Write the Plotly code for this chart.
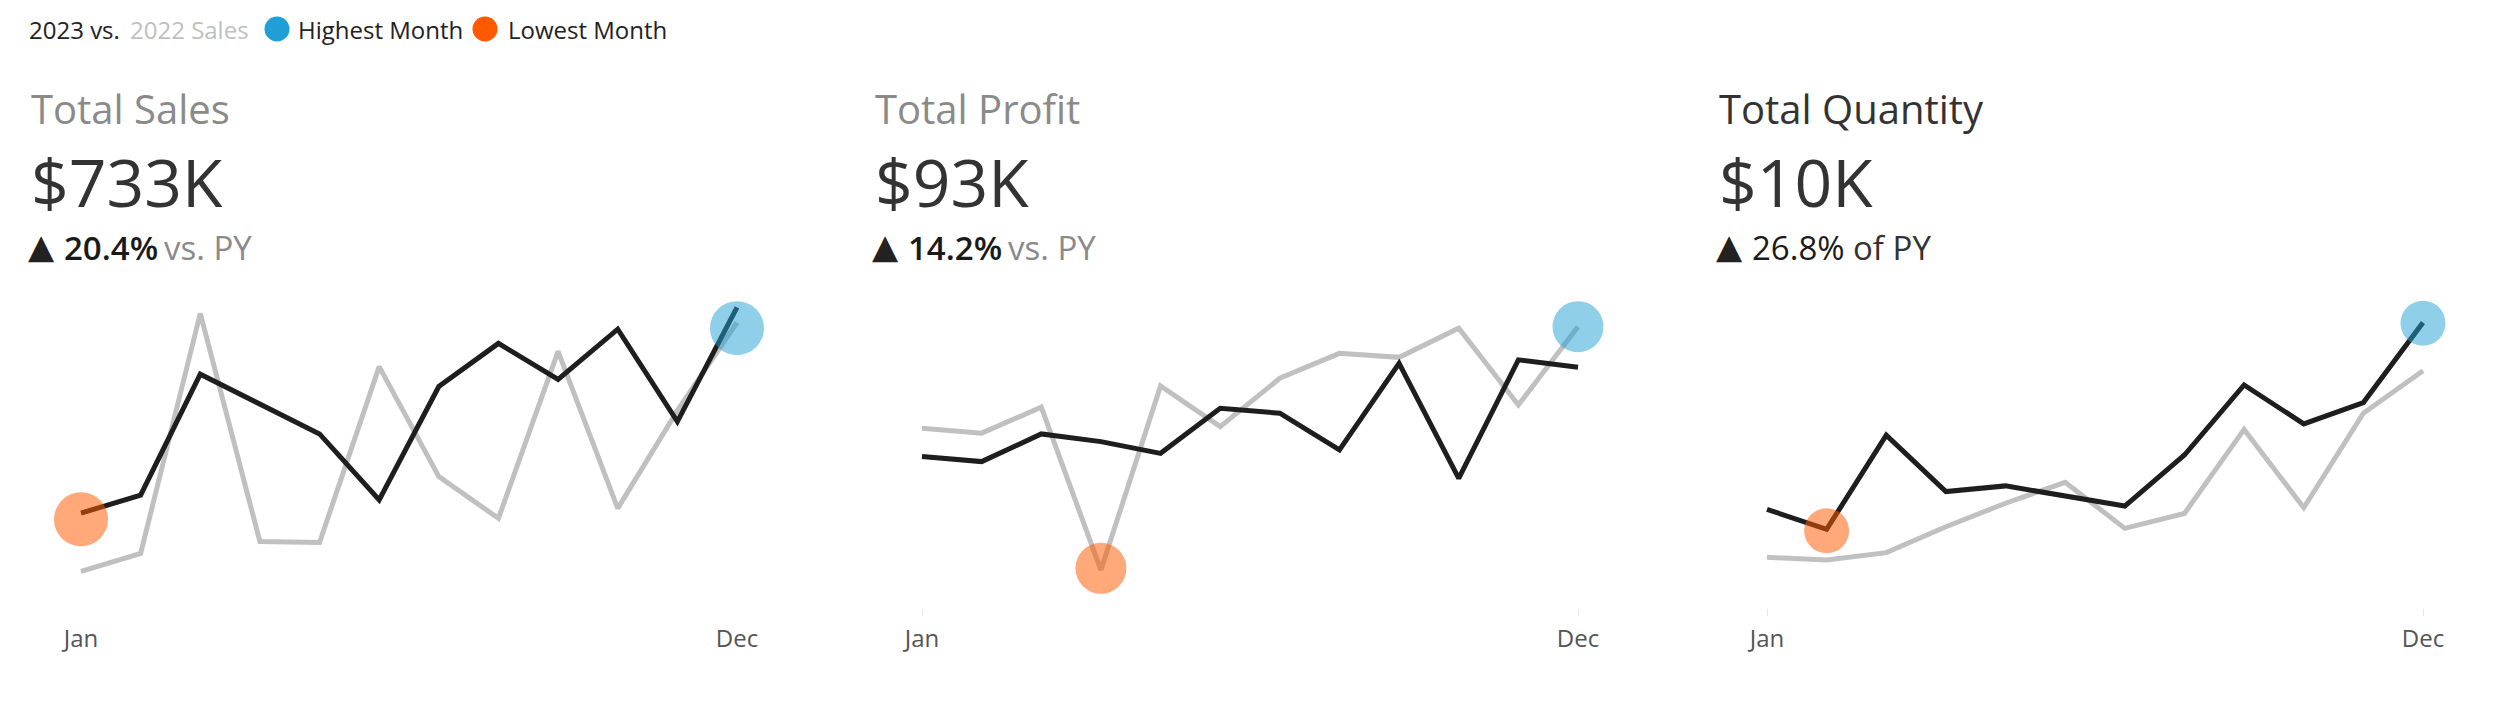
import plotly.graph_objects as go

# monthly values
months = ["Jan", "Feb", "Mar", "Apr", "May", "Jun",
          "Jul", "Aug", "Sep", "Oct", "Nov", "Dec"]

# Total Sales ($K)
sales_black = [38.8, 42.6, 68.1, 61.8, 55.5, 41.6, 65.5, 74.6, 67.0, 77.6, 58.1, 82.2]
sales_gray = [26.5, 30.3, 80.9, 32.8, 32.6, 69.7, 46.5, 37.7, 72.9, 39.8, 60.4, 79.0]
sales_low = ("Jan", 37.5)
sales_high = ("Dec", 77.8)

# Total Profit ($K)
profit_black = [5.48, 5.28, 6.39, 6.08, 5.61, 7.42, 7.22, 5.75, 9.22, 4.61, 9.36, 9.06]
profit_gray = [6.62, 6.42, 7.46, 0.93, 8.31, 6.68, 8.62, 9.62, 9.46, 10.63, 7.55, 10.69]
profit_low = ("Apr", 1.0)
profit_high = ("Dec", 10.69)

# Total Quantity (units)
qty_black = [598, 514, 911, 673, 697, 652, 612, 827, 1122, 958, 1048, 1385]
qty_gray = [396, 385, 416, 525, 624, 712, 518, 581, 935, 605, 1003, 1182]
qty_low = ("Feb", 508)
qty_high = ("Dec", 1382)

titles = ["Total Sales", "Total Profit", "Total Quantity"]
title_colors = ["#8a8a8a", "#8a8a8a", "#333333"]
kpis = ["$733K", "$93K", "$10K"]
deltas = ["20.4%", "14.2%", "26.8%"]
delta_suffix = ["vs. PY", "vs. PY", "of PY"]

BLUE = "#1f9fd6"
ORANGE = "#ff5a00"
FONT = "Open Sans"

panels = [
    dict(black=sales_black, gray=sales_gray, low=sales_low, high=sales_high,
         yrange=[18.8, 85.85], dot=54, ticks="white"),
    dict(black=profit_black, gray=profit_gray, low=profit_low, high=profit_high,
         yrange=[-0.59, 12.16], dot=51, ticks="#e6e6e6"),
    dict(black=qty_black, gray=qty_gray, low=qty_low, high=qty_high,
         yrange=[182.7, 1522], dot=45, ticks="#e6e6e6"),
]

W, H = 2500, 712
jan_px = [81, 922, 1767]     # pixel x of Jan in each panel
span_px = 656                # Jan -> Dec width
text_left = [29, 873, 1717]

fig = go.Figure()
layout = {}
annotations = []

for i, p in enumerate(panels):
    n = "" if i == 0 else str(i + 1)
    xa, ya = "x" + n, "y" + n
    step = span_px / 11
    left = (jan_px[i] - step / 2) / W
    right = (jan_px[i] + span_px + step / 2) / W

    fig.add_trace(go.Scatter(x=months, y=p["gray"], mode="lines", xaxis=xa, yaxis=ya,
                             line=dict(color="#c0c0c0", width=5), cliponaxis=False,
                             hoverinfo="skip"))
    fig.add_trace(go.Scatter(x=months, y=p["black"], mode="lines", xaxis=xa, yaxis=ya,
                             line=dict(color="#1e1e1e", width=5), cliponaxis=False,
                             hoverinfo="skip"))
    fig.add_trace(go.Scatter(x=[p["low"][0]], y=[p["low"][1]], mode="markers",
                             xaxis=xa, yaxis=ya, cliponaxis=False,
                             marker=dict(size=p["dot"], color=ORANGE, opacity=0.52,
                                         line=dict(width=0))))
    fig.add_trace(go.Scatter(x=[p["high"][0]], y=[p["high"][1]], mode="markers",
                             xaxis=xa, yaxis=ya, cliponaxis=False,
                             marker=dict(size=p["dot"], color=BLUE, opacity=0.5,
                                         line=dict(width=0))))

    layout["xaxis" + n] = dict(domain=[left, right], range=[-0.5, 11.5],
                               type="category", categoryorder="array",
                               categoryarray=months,
                               tickvals=["Jan", "Dec"], showgrid=False, zeroline=False,
                               showline=False, ticks="outside", ticklen=7,
                               tickcolor=p["ticks"], ticklabelstandoff=2,
                               tickfont=dict(size=24, color="#555555"),
                               anchor=ya, fixedrange=True)
    layout["yaxis" + n] = dict(domain=[1 - 608 / H, 1 - 290 / H], range=p["yrange"],
                               visible=False, anchor=xa, fixedrange=True)

    x0 = text_left[i]
    annotations.append(dict(text=titles[i], x=x0 / W, y=1 - 108 / H,
                            font=dict(size=40, color=title_colors[i])))
    annotations.append(dict(text=kpis[i], x=x0 / W, y=1 - 181 / H,
                            font=dict(size=66, color="#333333")))
    # ▲ 20.4% vs. PY
    annotations.append(dict(text="▲", x=(x0 - 3) / W, y=1 - 246 / H,
                            font=dict(size=34, color="#222222", family="DejaVu Sans")))
    annotations.append(dict(text=deltas[i], x=(x0 + 33) / W, y=1 - 247 / H,
                            font=dict(size=33, color="#1a1a1a",
                                      weight=600 if i < 2 else 400)))
    annotations.append(dict(text=delta_suffix[i], x=(x0 + (133 if i < 2 else 134)) / W,
                            y=1 - 247 / H,
                            font=dict(size=33, color="#8a8a8a" if i < 2 else "#333333")))

# legend line at the top
legend_y = 1 - 29 / H
for txt, px, col in [("2023 vs.", 27, "#222222"), ("2022 Sales", 128, "#c0c0c0"),
                     ("Highest Month", 296, "#222222"), ("Lowest Month", 506, "#222222")]:
    annotations.append(dict(text=txt, x=px / W, y=legend_y, font=dict(size=24, color=col)))

shapes = []
for cx, col in [(277, BLUE), (485, ORANGE)]:
    shapes.append(dict(type="circle", xref="paper", yref="paper",
                       x0=(cx - 12.5) / W, x1=(cx + 12.5) / W,
                       y0=legend_y - 12.5 / H, y1=legend_y + 12.5 / H,
                       fillcolor=col, line=dict(width=0)))

for a in annotations:
    a.update(xref="paper", yref="paper", xanchor="left", yanchor="middle",
             showarrow=False)

fig.update_layout(**layout)
fig.update_layout(width=W, height=H, margin=dict(l=0, r=0, t=0, b=0),
                  paper_bgcolor="white", plot_bgcolor="white",
                  font=dict(family=FONT), showlegend=False,
                  annotations=annotations, shapes=shapes)

# drop the default 8px body margin so the figure sits flush in the window
fig.write_html("out.html", config={"displayModeBar": False},
               post_script="document.body.style.margin = '0';")
